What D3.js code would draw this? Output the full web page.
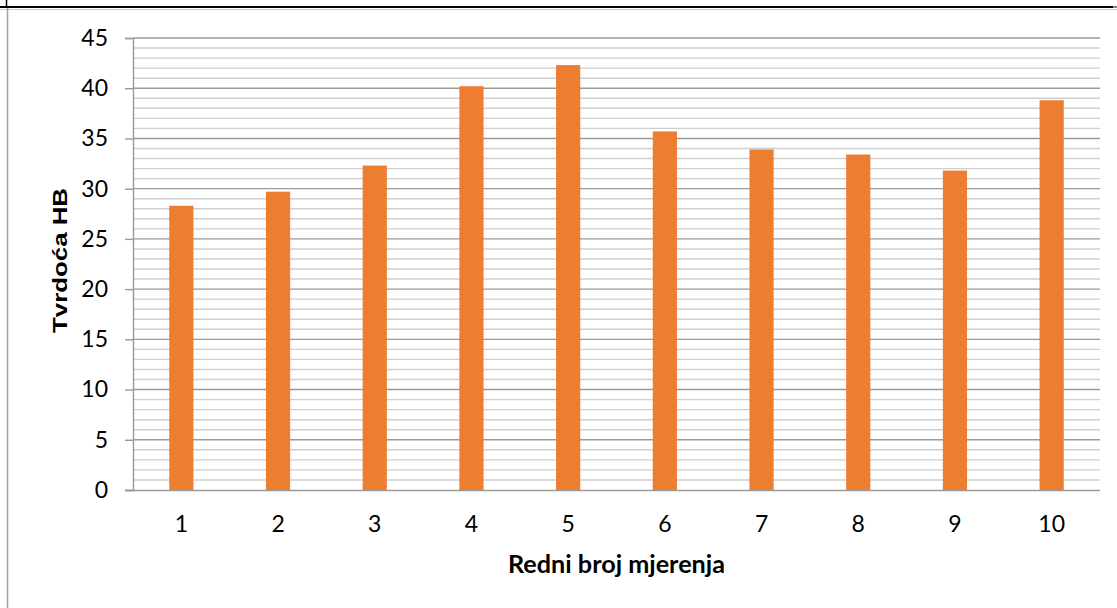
<!DOCTYPE html>
<html>
<head>
<meta charset="utf-8">
<script src="https://cdn.jsdelivr.net/npm/d3@7"></script>
<style>
  html, body { margin: 0; padding: 0; background: #fff; }
  svg { display: block; }
</style>
</head>
<body>
<svg id="chart" width="1117" height="608"></svg>
<script>
const categories = ["1", "2", "3", "4", "5", "6", "7", "8", "9", "10"];
const hardness = [28.3, 29.7, 32.3, 40.2, 42.3, 35.7, 33.9, 33.4, 31.8, 38.8];
const yTicks = [0, 5, 10, 15, 20, 25, 30, 35, 40, 45];
const yMinorTicks = d3.range(0, 46, 1);
const xTitle = "Redni broj mjerenja";
const yTitle = "Tvrdoća HB";

const svg = d3.select("#chart");
const W = 1117, H = 608;
const plot = { left: 133, right: 1100, top: 38, bottom: 490 };

// outer frame pieces
svg.append("line").attr("x1", 0).attr("x2", 1113).attr("y1", 7).attr("y2", 7)
  .attr("stroke", "#000").attr("stroke-width", 2);
svg.append("line").attr("x1", 1113).attr("x2", W).attr("y1", 7).attr("y2", 7)
  .attr("stroke", "#888").attr("stroke-width", 2);
svg.append("line").attr("x1", 0).attr("x2", W).attr("y1", 9.5).attr("y2", 9.5)
  .attr("stroke", "#ccc").attr("stroke-width", 1);
svg.append("line").attr("x1", 7.5).attr("x2", 7.5).attr("y1", 8).attr("y2", H)
  .attr("stroke", "#a0a0a0").attr("stroke-width", 1.5);
svg.append("line").attr("x1", 6.5).attr("x2", 6.5).attr("y1", 0).attr("y2", 6)
  .attr("stroke", "#000").attr("stroke-width", 1.5);

const x = d3.scaleBand().domain(categories)
  .range([plot.left, plot.right]).paddingInner(0.75).paddingOuter(0.375);
const y = d3.scaleLinear().domain([0, 45]).range([plot.bottom, plot.top]);

// minor gridlines
svg.append("g").selectAll("line")
  .data(yMinorTicks.filter(v => v % 5 !== 0))
  .join("line")
  .attr("x1", plot.left).attr("x2", plot.right)
  .attr("y1", d => y(d)).attr("y2", d => y(d))
  .attr("stroke", "#cfcfcf").attr("stroke-width", 1.4);

// major gridlines
svg.append("g").selectAll("line")
  .data(yTicks.filter(v => v !== 0))
  .join("line")
  .attr("x1", plot.left).attr("x2", plot.right)
  .attr("y1", d => y(d)).attr("y2", d => y(d))
  .attr("stroke", "#9a9a9a").attr("stroke-width", 1.4);

// bars
svg.append("g").selectAll("rect")
  .data(hardness)
  .join("rect")
  .attr("x", (d, i) => x(categories[i]))
  .attr("width", x.bandwidth())
  .attr("y", d => y(d))
  .attr("height", d => y(0) - y(d))
  .attr("fill", "#ED7D31");

// y axis
const yAxis = d3.axisLeft(y).tickValues(yTicks).tickSize(8).tickPadding(17)
  .tickFormat(d3.format("d"));
const gy = svg.append("g").attr("transform", `translate(${plot.left},0)`).call(yAxis);
gy.select(".domain").attr("stroke", "#9a9a9a").attr("stroke-width", 1.4);
gy.selectAll(".tick line").attr("stroke", "#9a9a9a").attr("stroke-width", 1.4);
gy.selectAll(".tick text").attr("font-family", "Lato, 'Open Sans', sans-serif")
  .attr("font-size", 23).attr("fill", "#000");

// x axis
const xAxis = d3.axisBottom(x).tickSize(0).tickPadding(26);
const gx = svg.append("g").attr("transform", `translate(0,${plot.bottom})`).call(xAxis);
gx.select(".domain").attr("stroke", "#9a9a9a").attr("stroke-width", 1.4)
  .attr("d", `M${plot.left - 8},0.5H${plot.right}`);
gx.selectAll(".tick text").attr("font-family", "Lato, 'Open Sans', sans-serif")
  .attr("font-size", 23).attr("fill", "#000");

// titles
svg.append("text")
  .attr("x", 616.5).attr("y", 573)
  .attr("text-anchor", "middle")
  .attr("font-family", "Lato, 'Open Sans', sans-serif")
  .attr("font-weight", "bold").attr("font-size", 24)
  .attr("textLength", 217).attr("lengthAdjust", "spacingAndGlyphs")
  .attr("fill", "#000")
  .text(xTitle);

svg.append("text")
  .attr("transform", "translate(66.5,260.5) rotate(-90)")
  .attr("text-anchor", "middle")
  .attr("font-family", "'Liberation Sans', Arial, sans-serif")
  .attr("font-weight", "bold").attr("font-size", 21)
  .attr("textLength", 145).attr("lengthAdjust", "spacingAndGlyphs")
  .attr("fill", "#000")
  .text(yTitle);
</script>
</body>
</html>
